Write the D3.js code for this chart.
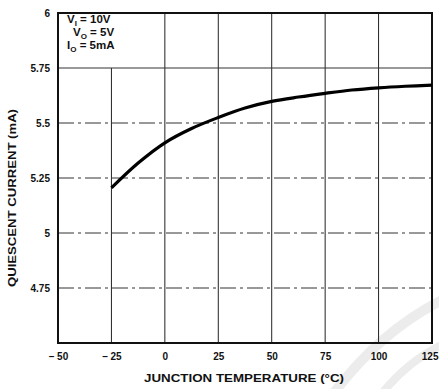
<!DOCTYPE html>
<html><head><meta charset="utf-8">
<script src="https://cdn.jsdelivr.net/npm/d3@7"></script>
<style>body{margin:0;background:#fff}svg{display:block}text{font-family:"Liberation Sans",Arial,sans-serif;font-weight:bold;fill:#111}</style>
</head><body><svg id="c" width="439" height="389"></svg>
<script>
const temps = [-25, -12.5, 0, 12.5, 25, 37.5, 50, 62.5, 75, 87.5, 100, 112.5, 125];
const current = [5.205, 5.318, 5.41, 5.475, 5.525, 5.568, 5.598, 5.618, 5.635, 5.65, 5.66, 5.667, 5.672];
const xTicks = [-50, -25, 0, 25, 50, 75, 100, 125];
const xTickLabels = ["\u2013 50", "\u2013 25", "0", "25", "50", "75", "100", "125"];
const yTicks = [4.75, 5, 5.25, 5.5, 5.75, 6];
const yTickLabels = ["4.75", "5", "5.25", "5.5", "5.75", "6"];
const xTitle = "JUNCTION TEMPERATURE (\u00B0C)";
const yTitle = "QUIESCENT CURRENT (mA)";

const svg = d3.select("#c");
const x = d3.scaleLinear().domain([-50, 125]).range([58, 432]);
const y = d3.scaleLinear().domain([4.5, 6]).range([343, 13]);

// faint watermark swooshes
const wm = svg.append("g").attr("fill", "none").attr("stroke", "#ececec").attr("stroke-linecap", "round");
wm.append("path").attr("d", "M330,398 Q380,330 446,298").attr("stroke-width", 10);
wm.append("path").attr("d", "M378,398 Q408,360 446,343").attr("stroke-width", 8);

// grid
const g = svg.append("g").attr("stroke", "#222").attr("stroke-width", 1);
xTicks.slice(1, -1).forEach(t => {
  const top = (t < 0) ? y(5.75) : y(6);
  g.append("line").attr("x1", x(t)).attr("x2", x(t)).attr("y1", top).attr("y2", y(4.5));
});
yTicks.slice(0, -1).forEach(t => {
  g.append("line").attr("x1", x(-50)).attr("x2", x(125)).attr("y1", y(t)).attr("y2", y(t))
    .attr("stroke-dasharray", t === 5.75 ? null : "16,4,3,4").attr("stroke", "#333");
});

// frame
svg.append("rect").attr("x", x(-50)).attr("y", y(6)).attr("width", x(125) - x(-50)).attr("height", y(4.5) - y(6))
  .attr("fill", "none").attr("stroke", "#111").attr("stroke-width", 2);

// tick labels via d3 axes
const xa = svg.append("g").attr("transform", `translate(0,${y(4.5)})`)
  .call(d3.axisBottom(x).tickValues(xTicks).tickSize(0).tickPadding(10).tickFormat((d, i) => xTickLabels[i]));
xa.select(".domain").remove();
xa.selectAll("text").attr("font-size", 10).attr("font-family", "Liberation Sans, Arial, sans-serif").attr("font-weight", "bold").attr("fill", "#111");
// keep the last label inside the window
xa.selectAll("text").filter(d => d === 125).attr("text-anchor", "end").attr("x", 438 - x(125));

const ya = svg.append("g").attr("transform", `translate(${x(-50) - 6},0)`)
  .call(d3.axisLeft(y).tickValues(yTicks).tickSize(0).tickPadding(2).tickFormat((d, i) => yTickLabels[i]));
ya.select(".domain").remove();
ya.selectAll("text").attr("font-size", 10).attr("font-family", "Liberation Sans, Arial, sans-serif").attr("font-weight", "bold").attr("fill", "#111");

// titles
svg.append("text").attr("x", 244).attr("y", 382).attr("text-anchor", "middle").attr("font-size", 10)
  .attr("textLength", 200).attr("lengthAdjust", "spacingAndGlyphs").text(xTitle);
svg.append("text").attr("transform", `translate(16,198) rotate(-90)`).attr("text-anchor", "middle").attr("font-size", 10)
  .attr("textLength", 178).attr("lengthAdjust", "spacingAndGlyphs").text(yTitle);

// curve
const line = d3.line().x((d, i) => x(temps[i])).y(d => y(d)).curve(d3.curveCatmullRom.alpha(0.5));
svg.append("path").datum(current).attr("d", line).attr("fill", "none").attr("stroke", "#000").attr("stroke-width", 3.2);

// annotation
const ann = svg.append("g").attr("font-size", 11.5);
function addLine(xp, yp, main, sub, rest) {
  const t = ann.append("text").attr("x", xp).attr("y", yp);
  t.append("tspan").text(main);
  t.append("tspan").attr("font-size", 8).attr("dy", 2.5).text(sub);
  t.append("tspan").attr("dy", -2.5).text(rest);
}
addLine(67, 23, "V", "I", " = 10V");
addLine(73, 36, "V", "O", " = 5V");
addLine(67, 49, "I", "O", " = 5mA");
</script></body></html>
